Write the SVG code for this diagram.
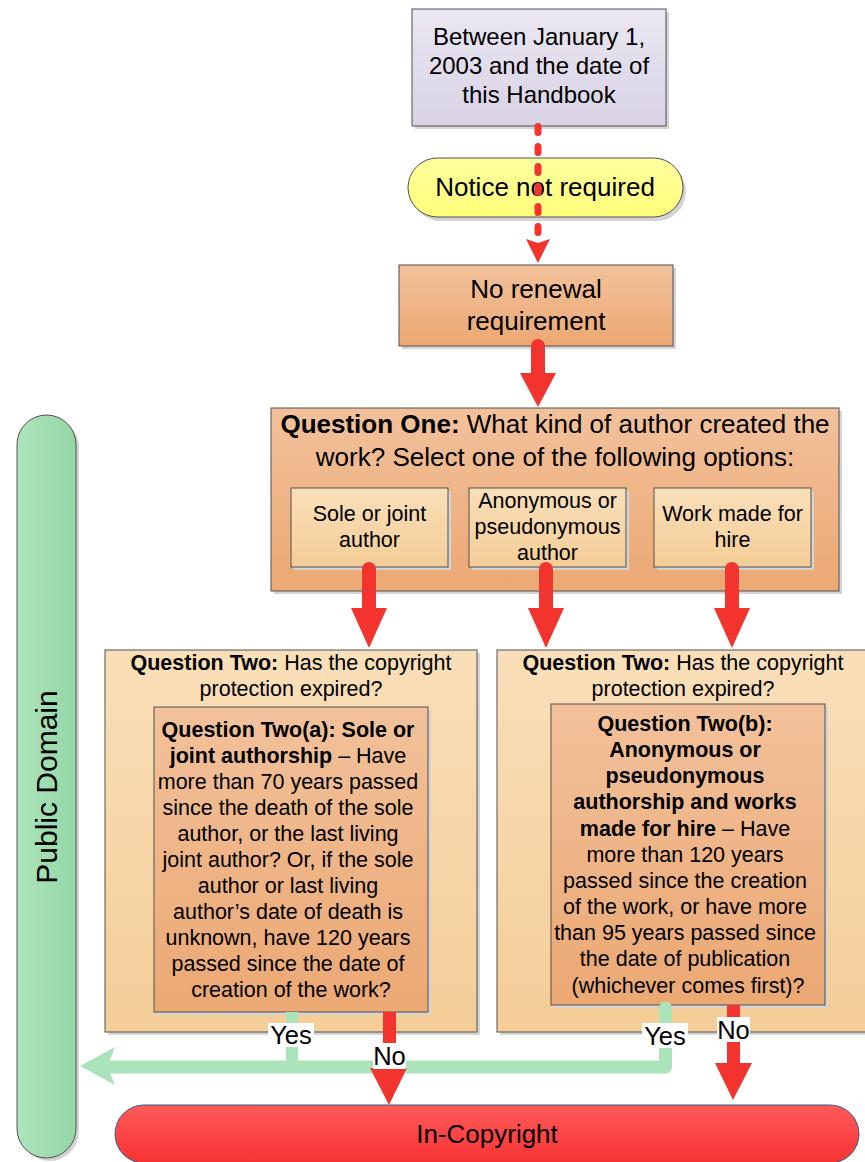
<svg xmlns="http://www.w3.org/2000/svg" width="865" height="1162" viewBox="0 0 865 1162">
<defs>
<linearGradient id="gLav" x1="0" y1="0" x2="0" y2="1"><stop offset="0" stop-color="#ebe7f2"/><stop offset="1" stop-color="#d8d2e4"/></linearGradient>
<linearGradient id="gYel" x1="0" y1="0" x2="0" y2="1"><stop offset="0" stop-color="#ffffa0"/><stop offset="1" stop-color="#ffff78"/></linearGradient>
<linearGradient id="gOr" x1="0" y1="0" x2="0" y2="1"><stop offset="0" stop-color="#f2c19b"/><stop offset="1" stop-color="#eba873"/></linearGradient>
<linearGradient id="gLt" x1="0" y1="0" x2="0" y2="1"><stop offset="0" stop-color="#f9dfb9"/><stop offset="1" stop-color="#f4cd97"/></linearGradient>
<linearGradient id="gGr" x1="0" y1="0" x2="1" y2="0"><stop offset="0" stop-color="#ade4bc"/><stop offset="1" stop-color="#94d7a5"/></linearGradient>
<linearGradient id="gRed" x1="0" y1="0" x2="0" y2="1"><stop offset="0" stop-color="#ff5a5a"/><stop offset="1" stop-color="#f73232"/></linearGradient>
</defs>
<style>
text{font-family:"Liberation Sans",Arial,sans-serif;fill:#000;text-anchor:middle}
.b{font-weight:bold}
.box{stroke:#505050;stroke-width:1}
.sh{fill:#d4d4d4}
.red{fill:#f3332e}
.rl{stroke:#f3332e;fill:none}
.gl{stroke:#abe3bb;fill:none}
.lbl{fill:#fff}
.yn{font-size:25.5px}
</style>

<g id="public-domain">
<rect class="sh" x="20" y="418" width="59" height="743" rx="29.5"/>
<rect class="box" x="17" y="415" width="59" height="743" rx="29.5" fill="url(#gGr)"/>
<text transform="translate(57,787) rotate(-90)" font-size="30">Public Domain</text>
</g>

<g id="start">
<rect class="sh" x="415" y="12" width="254" height="117"/>
<rect class="box" x="412" y="9" width="254" height="117" fill="url(#gLav)"/>
<text font-size="24"><tspan x="539" y="45">Between January 1,</tspan><tspan x="539" y="74">2003 and the date of</tspan><tspan x="539" y="103">this Handbook</tspan></text>
</g>

<g id="notice">
<rect class="sh" x="411" y="162" width="275" height="59" rx="29.5"/>
<rect class="box" x="408" y="158" width="275" height="59" rx="29.5" fill="url(#gYel)"/>
<text x="545" y="196" font-size="26">Notice not required</text>
</g>

<g id="renewal">
<rect class="sh" x="402" y="268" width="274" height="81"/>
<rect class="box" x="399" y="265" width="274" height="81" fill="url(#gOr)"/>
<text font-size="26"><tspan x="536" y="298">No renewal</tspan><tspan x="536" y="330">requirement</tspan></text>
</g>

<g id="question-one">
<rect class="sh" x="274" y="411" width="568" height="183"/>
<rect class="box" x="271" y="408" width="568" height="183" fill="url(#gOr)"/>
<text font-size="26"><tspan x="555" y="433"><tspan class="b">Question One:</tspan> What kind of author created the</tspan><tspan x="555" y="466">work? Select one of the following options:</tspan></text>
</g>

<g id="opt-sole">
<rect class="sh" x="294" y="491" width="157" height="79"/>
<rect class="box" x="291" y="488" width="157" height="79" fill="url(#gLt)"/>
<text font-size="21.5"><tspan x="369.5" y="521">Sole or joint</tspan><tspan x="369.5" y="547">author</tspan></text>
</g>

<g id="opt-anon">
<rect class="sh" x="472" y="491" width="157" height="79"/>
<rect class="box" x="469" y="488" width="157" height="79" fill="url(#gLt)"/>
<text font-size="21.5"><tspan x="547.5" y="508">Anonymous or</tspan><tspan x="547.5" y="534">pseudonymous</tspan><tspan x="547.5" y="560">author</tspan></text>
</g>

<g id="opt-hire">
<rect class="sh" x="657" y="491" width="157" height="79"/>
<rect class="box" x="654" y="488" width="157" height="79" fill="url(#gLt)"/>
<text font-size="21.5"><tspan x="732.5" y="521">Work made for</tspan><tspan x="732.5" y="547">hire</tspan></text>
</g>

<g id="question-two-a">
<rect class="sh" x="108" y="653" width="372" height="382"/>
<rect class="box" x="105" y="650" width="372" height="382" fill="url(#gLt)"/>
<text font-size="21.5"><tspan x="291" y="670"><tspan class="b">Question Two:</tspan> Has the copyright</tspan><tspan x="291" y="696">protection expired?</tspan></text>
<rect class="sh" x="157" y="710" width="274" height="305"/>
<rect class="box" x="154" y="707" width="274" height="305" fill="url(#gOr)"/>
<text font-size="21.5">
<tspan x="291" y="737" class="b">Question Two(a): Sole or</tspan>
<tspan x="291" y="763"><tspan class="b">joint authorship</tspan> – Have</tspan>
<tspan x="291" y="789">more than 70 years passed</tspan>
<tspan x="291" y="815">since the death of the sole</tspan>
<tspan x="291" y="841">author, or the last living</tspan>
<tspan x="291" y="867">joint author? Or, if the sole</tspan>
<tspan x="291" y="893">author or last living</tspan>
<tspan x="291" y="919">author’s date of death is</tspan>
<tspan x="291" y="945">unknown, have 120 years</tspan>
<tspan x="291" y="971">passed since the date of</tspan>
<tspan x="291" y="997">creation of the work?</tspan>
</text>
</g>

<g id="question-two-b">
<rect class="sh" x="500" y="653" width="380" height="382"/>
<rect class="box" x="497" y="650" width="380" height="382" fill="url(#gLt)"/>
<text font-size="21.5"><tspan x="683" y="670"><tspan class="b">Question Two:</tspan> Has the copyright</tspan><tspan x="683" y="696">protection expired?</tspan></text>
<rect class="sh" x="554" y="707" width="274" height="301"/>
<rect class="box" x="551" y="704" width="274" height="301" fill="url(#gOr)"/>
<text font-size="21.5">
<tspan x="688" y="731" class="b">Question Two(b):</tspan>
<tspan x="688" y="757" class="b">Anonymous or</tspan>
<tspan x="688" y="783" class="b">pseudonymous</tspan>
<tspan x="688" y="809" class="b">authorship and works</tspan>
<tspan x="688" y="836"><tspan class="b">made for hire</tspan> – Have</tspan>
<tspan x="688" y="862">more than 120 years</tspan>
<tspan x="688" y="888">passed since the creation</tspan>
<tspan x="688" y="914">of the work, or have more</tspan>
<tspan x="688" y="940">than 95 years passed since</tspan>
<tspan x="688" y="966">the date of publication</tspan>
<tspan x="688" y="993">(whichever comes first)?</tspan>
</text>
</g>

<g id="in-copyright">
<rect x="115" y="1105" width="744" height="58" rx="29" fill="url(#gRed)" stroke="#2f5f8a" stroke-width="1"/>
<text x="487" y="1143" font-size="26">In-Copyright</text>
</g>

<g id="connectors">
<line class="rl" x1="538" y1="126.5" x2="538" y2="236" stroke-width="7" stroke-linecap="round" stroke-dasharray="6 14"/>
<polygon class="red" points="526,239 538,243 550,239 538,263"/>
<line class="rl" x1="538" y1="346" x2="538" y2="376" stroke-width="14" stroke-linecap="round"/>
<polygon class="red" points="520,373 556,373 538,407"/>
<line class="rl" x1="369" y1="569" x2="369" y2="611" stroke-width="14" stroke-linecap="round"/>
<polygon class="red" points="351,608 387,608 369,648"/>
<line class="rl" x1="546" y1="569" x2="546" y2="611" stroke-width="14" stroke-linecap="round"/>
<polygon class="red" points="528,608 564,608 546,648"/>
<line class="rl" x1="732" y1="569" x2="732" y2="611" stroke-width="14" stroke-linecap="round"/>
<polygon class="red" points="714,608 750,608 732,648"/>
<line class="gl" x1="292" y1="1012" x2="292" y2="1067" stroke-width="12"/>
<path class="gl" d="M665.5,1008 V1067 H112" stroke-width="13" stroke-linecap="round" stroke-linejoin="round"/>
<polygon points="80,1066 115,1047 110,1060 110,1073 115,1085" fill="#abe3bb"/>
<line class="rl" x1="389.5" y1="1012" x2="389.5" y2="1071" stroke-width="13"/>
<polygon class="red" points="370,1068 407,1068 389,1105"/>
<line class="rl" x1="733.5" y1="1005" x2="733.5" y2="1066" stroke-width="13"/>
<polygon class="red" points="715,1063 752,1063 733,1100"/>
<rect class="lbl" x="268" y="1023" width="46" height="24"/>
<text class="yn" x="291" y="1044">Yes</text>
<rect class="lbl" x="373" y="1043" width="33" height="26"/>
<text class="yn" x="389.5" y="1065">No</text>
<rect class="lbl" x="642" y="1023" width="46" height="25"/>
<text class="yn" x="665" y="1045">Yes</text>
<rect class="lbl" x="717" y="1017" width="33" height="25"/>
<text class="yn" x="733.5" y="1039">No</text>
</g>
</svg>
